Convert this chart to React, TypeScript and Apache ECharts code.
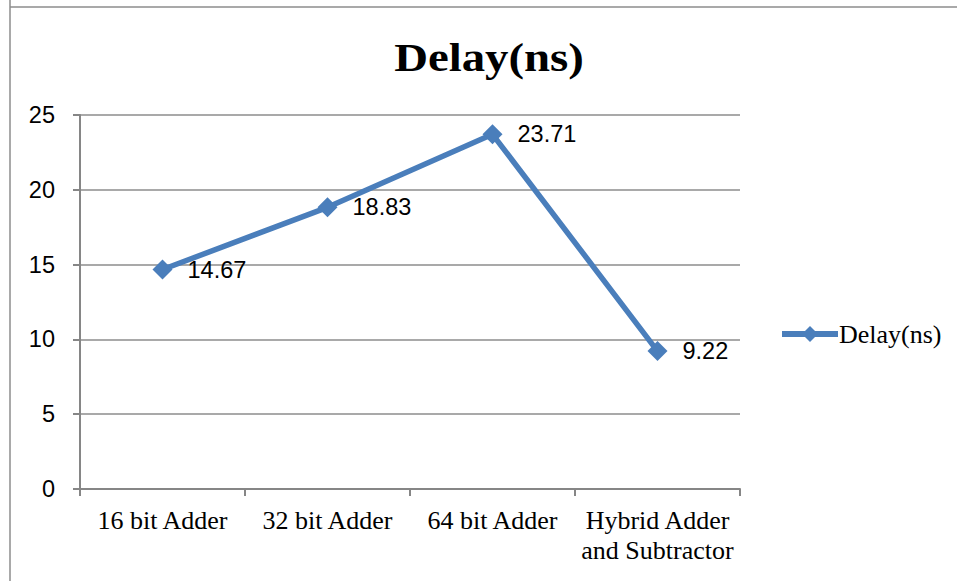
import React, { useEffect, useRef } from "react";
import * as echarts from "echarts";

const categories = ["16 bit Adder", "32 bit Adder", "64 bit Adder", "Hybrid Adder\nand Subtractor"];
const delayValues = [14.67, 18.83, 23.71, 9.22];
const seriesName = "Delay(ns)";
const titleText = "Delay(ns)";

export default function App() {
  const ref = useRef<HTMLDivElement>(null);
  useEffect(() => {
    if (!ref.current) return;
    const chart = echarts.init(ref.current, null, { renderer: "svg" });
    chart.setOption({
      animation: false,
      backgroundColor: "#ffffff",
      graphic: [
        { type: "line", shape: { x1: 10, y1: 0, x2: 10, y2: 581 }, style: { stroke: "#8c8c8c", lineWidth: 1.5 } },
        { type: "line", shape: { x1: 10, y1: 7, x2: 957, y2: 7 }, style: { stroke: "#8c8c8c", lineWidth: 1.5 } },
        {
          type: "text",
          x: 489,
          y: 57,
          scaleX: 1.17,
          style: {
            text: titleText,
            align: "center",
            verticalAlign: "middle",
            fontFamily: "Liberation Serif",
            fontWeight: "bold",
            fontSize: 40,
            fill: "#000",
          },
        },
      ],
      legend: {
        left: 779,
        top: 321,
        padding: 0,
        itemWidth: 56,
        itemHeight: 20,
        itemGap: 0,
        lineStyle: { width: 6 },
        textStyle: { fontFamily: "Liberation Serif", fontSize: 26, color: "#000", padding: [0, 0, 0, -4] },
        data: [seriesName],
      },
      grid: { left: 80, right: 217, top: 115, bottom: 92, containLabel: false },
      xAxis: {
        type: "category",
        data: categories,
        boundaryGap: true,
        axisLine: { lineStyle: { color: "#868686", width: 2 } },
        axisTick: { show: true, length: 7, alignWithLabel: false, lineStyle: { color: "#868686", width: 2 } },
        axisLabel: {
          fontFamily: "Liberation Serif",
          fontSize: 26,
          color: "#000",
          margin: 16,
          lineHeight: 30,
          interval: 0,
        },
      },
      yAxis: {
        type: "value",
        min: 0,
        max: 25,
        interval: 5,
        axisLine: { show: true, lineStyle: { color: "#868686", width: 2 } },
        axisTick: { show: true, length: 7, lineStyle: { color: "#868686", width: 2 } },
        splitLine: { lineStyle: { color: "#8c8c8c", width: 1.5 } },
        axisLabel: {
          fontFamily: "Liberation Sans",
          fontSize: 23.5,
          color: "#000",
          margin: 25,
        },
      },
      series: [
        {
          name: seriesName,
          type: "line",
          data: delayValues,
          symbol: "diamond",
          symbolSize: 20,
          lineStyle: { color: "#4a7ebb", width: 5.5 },
          itemStyle: { color: "#4a7ebb" },
          label: {
            show: true,
            position: "right",
            distance: 15,
            fontFamily: "Liberation Sans",
            fontSize: 23.5,
            color: "#000",
            formatter: (p: any) => p.value.toFixed(2),
          },
        },
      ],
    });
    return () => chart.dispose();
  }, []);
  return (
    <div
      ref={ref}
      style={{ position: "fixed", left: 0, top: 0, width: 957, height: 581 }}
    />
  );
}
